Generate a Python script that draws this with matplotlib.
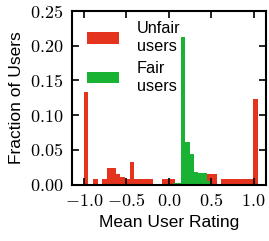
#!/usr/bin/env python

import matplotlib
matplotlib.use('Agg')
import matplotlib.pyplot as plt
import numpy as np
from matplotlib.ticker import FuncFormatter

# histogram bins (mean rating) and fraction of users per bin
unfair_edges = np.linspace(-1.0, 1.05, 39)
unfair_frac = [0.134, 0, 0.008, 0, 0.008, 0.024, 0.024, 0.016, 0.011, 0.008,
               0.032, 0.008, 0.008, 0.008, 0.008, 0, 0, 0.008, 0.008, 0.008,
               0, 0, 0, 0, 0, 0, 0.008, 0.016, 0.016, 0,
               0.008, 0.008, 0.008, 0.008, 0.008, 0.008, 0.008, 0.124]

fair_edges = np.linspace(0.045, 0.5, 10)
fair_frac = [0.002, 0.003, 0.213, 0.061, 0.044, 0.018, 0.017, 0.017, 0.005]

xticks = [-1.0, -0.5, 0.0, 0.5, 1.0]
yticks = [0.0, 0.05, 0.10, 0.15, 0.20, 0.25]

RED = '#e5341d'
GREEN = '#19b232'


def main():
    plt.rcParams['font.family'] = ['Liberation Sans', 'DejaVu Sans']
    plt.rcParams['mathtext.fontset'] = 'cm'

    fig = plt.figure(figsize=(2.69, 2.41), dpi=100)
    ax = fig.add_axes([0.266, 0.234, 0.723, 0.72])

    ax.hist(unfair_edges[:-1], bins=unfair_edges, weights=unfair_frac,
            color=RED, linewidth=0, label='Unfair\nusers')
    ax.hist(fair_edges[:-1], bins=fair_edges, weights=fair_frac,
            color=GREEN, linewidth=0, label='Fair\nusers')

    ax.set_xlim(-1.145, 1.147)
    ax.set_ylim(0, 0.25)
    ax.set_xticks(xticks)
    ax.set_yticks(yticks)
    ax.xaxis.set_major_formatter(FuncFormatter(lambda v, p: r'$%.1f$' % v))
    ax.yaxis.set_major_formatter(FuncFormatter(lambda v, p: r'$%.2f$' % v))
    ax.tick_params(direction='in', length=5, width=1.2, top=True, right=True,
                   labelsize=13, pad=6)
    for s in ax.spines.values():
        s.set_linewidth(1.5)

    ax.set_xlabel('Mean User Rating', fontsize=12.5, labelpad=4)
    ax.set_ylabel('Fraction of Users', fontsize=12.5, labelpad=4)

    ax.legend(loc='upper left', bbox_to_anchor=(0.078, 0.94), frameon=False,
              fontsize=11.7, borderpad=0, borderaxespad=0,
              handlelength=2.0, handletextpad=1.1, labelspacing=0.45)

    fig.savefig('out.png', dpi=100)


if __name__ == "__main__":
    main()
